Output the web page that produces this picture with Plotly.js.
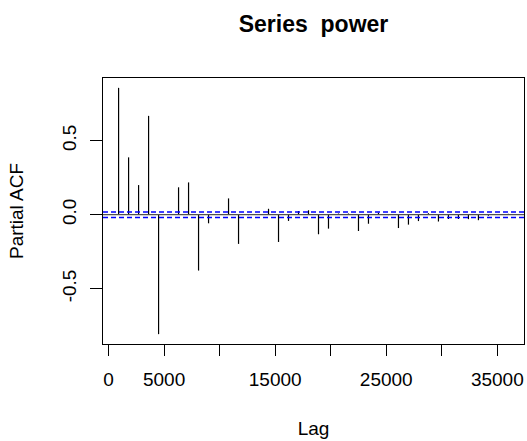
<!DOCTYPE html>
<html>
<head>
<meta charset="utf-8">
<script src="https://cdn.plot.ly/plotly-3.0.1.min.js"></script>
<style>html,body{margin:0;padding:0;background:#fff;}#chart{width:527px;height:441px;}</style>
</head>
<body>
<div id="chart"></div>
<script>
// Lags (time units) at which the partial autocorrelation was computed
const lags = [900, 1800, 2700, 3600, 4500, 5400, 6300, 7200, 8100, 9000,
  9900, 10800, 11700, 12600, 13500, 14400, 15300, 16200, 17100, 18000,
  18900, 19800, 20700, 21600, 22500, 23400, 24300, 25200, 26100, 27000,
  27900, 28800, 29700, 30600, 31500, 32400, 33300, 34200, 35100, 36000];
// Partial ACF values
const pacfValues = [0.856, 0.387, 0.200, 0.667, -0.806, 0.004, 0.185, 0.218, -0.377, -0.058,
  0.004, 0.110, -0.197, -0.003, 0.003, 0.040, -0.184, -0.042, 0.025, 0.030,
  -0.132, -0.094, 0.008, 0.008, -0.110, -0.061, 0.014, -0.003, -0.090, -0.067,
  -0.043, 0.010, -0.046, -0.029, -0.029, -0.030, -0.037, -0.007, 0.002, 0.006];
// Confidence bound (+/-)
const ciBound = 0.019;
// Tick labels
const xTickVals = [0, 5000, 10000, 15000, 20000, 25000, 30000, 35000];
const xTickText = ['0', '5000', '', '15000', '', '25000', '', '35000'];
const yTickVals = [-0.5, 0, 0.5];
const yTickText = ['-0.5', '0.0', '0.5'];

// axis limits as R computes them (range extended by 4%)
const allY = pacfValues.concat([ciBound, -ciBound]);
const yMin = Math.min(...allY), yMax = Math.max(...allY);
const xMin = Math.min(...lags), xMax = Math.max(...lags);
const xPad = 0.04 * (xMax - xMin), yPad = 0.04 * (yMax - yMin);

// vertical spikes from 0 to each value
const sx = [], sy = [];
lags.forEach((l, i) => { sx.push(l, l, null); sy.push(0, pacfValues[i], null); });

const font = 'Liberation Sans, Arial, sans-serif';
const traces = [{
  x: sx, y: sy, type: 'scatter', mode: 'lines',
  line: {color: '#000000', width: 1.2}, hoverinfo: 'skip', showlegend: false
}];

const layout = {
  width: 527, height: 441,
  margin: {l: 103, r: 3, t: 78, b: 97, pad: 0},
  paper_bgcolor: '#ffffff', plot_bgcolor: '#ffffff',
  font: {family: font, color: '#000000', size: 19},
  showlegend: false,
  title: {text: '<b>Series\u00a0 power</b>', font: {family: font, size: 23, color: '#000000'},
    x: 0.5, xref: 'paper', xanchor: 'center', y: 0.945, yref: 'container', yanchor: 'middle'},
  xaxis: {
    range: [xMin - xPad, xMax + xPad], tickmode: 'array', tickvals: xTickVals, ticktext: xTickText,
    ticks: 'outside', ticklen: 11, tickwidth: 1, tickcolor: '#000000',
    showline: true, mirror: true, linecolor: '#000000', linewidth: 1,
    showgrid: false, zeroline: false, tickfont: {size: 19}, ticklabelstandoff: 7,
    title: {text: 'Lag', font: {size: 19}, standoff: 32}
  },
  yaxis: {
    range: [yMin - yPad, yMax + yPad], tickmode: 'array', tickvals: yTickVals, ticktext: yTickText,
    tickangle: -90, ticks: 'outside', ticklen: 12, tickwidth: 1, tickcolor: '#000000',
    showline: true, mirror: true, linecolor: '#000000', linewidth: 1,
    showgrid: false, zeroline: false, tickfont: {size: 19}, ticklabelstandoff: 6,
    title: {text: 'Partial ACF', font: {size: 19}, standoff: 30}
  },
  shapes: [
    {type: 'line', xref: 'paper', x0: 0, x1: 1, yref: 'y', y0: 0, y1: 0, line: {color: '#505050', width: 1.2}},
    {type: 'line', xref: 'paper', x0: 0, x1: 1, yref: 'y', y0: ciBound, y1: ciBound, line: {color: '#0000ff', width: 1.5, dash: '5px,3px'}},
    {type: 'line', xref: 'paper', x0: 0, x1: 1, yref: 'y', y0: -ciBound, y1: -ciBound, line: {color: '#0000ff', width: 1.5, dash: '5px,3px'}}
  ]
};

Plotly.newPlot('chart', traces, layout, {staticPlot: true, displayModeBar: false});
</script>
</body>
</html>
